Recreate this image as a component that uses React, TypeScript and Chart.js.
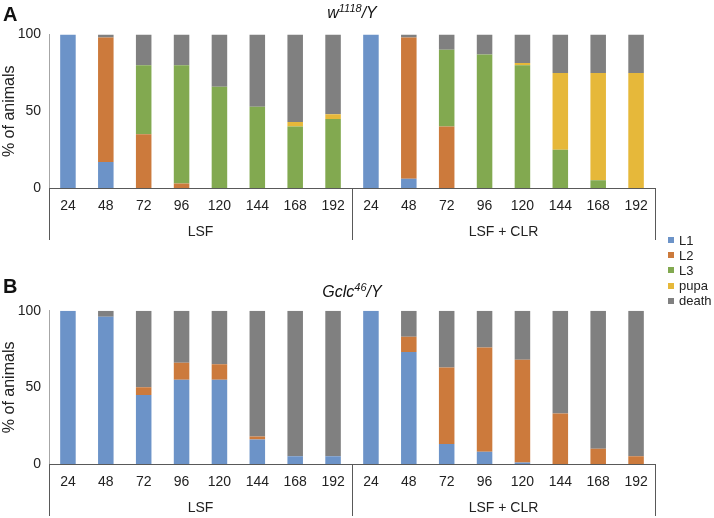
import React, { useEffect, useRef } from 'react';
import { Chart, registerables } from 'chart.js';

Chart.register(...registerables);

const FONT = '"Liberation Sans", Arial, sans-serif';

const timeLabels = ['24', '48', '72', '96', '120', '144', '168', '192'];
const groupLabels = ['LSF', 'LSF + CLR'];
const categories = [...timeLabels, ...timeLabels];
const stageNames = ['L1', 'L2', 'L3', 'pupa', 'death'];
const stageColors = ['#6C93C8', '#CC7A3C', '#82A950', '#E6B83A', '#808080'];
const yTicks = [0, 50, 100];

// Panel A: w1118/Y
const aL1 = [100, 17, 0, 0, 0, 0, 0, 0, 100, 6, 0, 0, 0, 0, 0, 0];
const aL2 = [0, 81, 35, 3, 0, 0, 0, 0, 0, 92, 40, 0, 0, 0, 0, 0];
const aL3 = [0, 0, 45, 77, 66, 53, 40, 45, 0, 0, 50, 87, 80, 25, 5, 0];
const aPupa = [0, 0, 0, 0, 0, 0, 3, 3, 0, 0, 0, 0, 1.5, 50, 70, 75];
const aDeath = [0, 2, 20, 20, 34, 47, 57, 52, 0, 2, 10, 13, 18.5, 25, 25, 25];

// Panel B: Gclc46/Y
const bL1 = [100, 96, 45, 55, 55, 16, 5, 5, 100, 73, 13, 8, 1, 0, 0, 0];
const bL2 = [0, 0, 5, 11, 10, 2, 0, 0, 0, 10, 50, 68, 67, 33, 10, 5];
const bL3 = [0, 0, 0, 0, 0, 0, 0, 0, 0, 0, 0, 0, 0, 0, 0, 0];
const bPupa = [0, 0, 0, 0, 0, 0, 0, 0, 0, 0, 0, 0, 0, 0, 0, 0];
const bDeath = [0, 4, 50, 34, 35, 82, 95, 95, 0, 17, 37, 24, 32, 67, 90, 95];

const groupPlugin = {
  id: 'groupLabels',
  afterDraw(chart: any) {
    const xs = chart.scales.x;
    const ctx = chart.ctx;
    const y0 = xs.top;
    const per = timeLabels.length;
    const n = categories.length;
    const boundary = (idx: number) => {
      if (idx <= 0) return xs.left;
      if (idx >= n) return xs.right;
      return (xs.getPixelForTick(idx - 1) + xs.getPixelForTick(idx)) / 2;
    };
    ctx.save();
    ctx.strokeStyle = '#595959';
    ctx.lineWidth = 1;
    for (let g = 0; g <= groupLabels.length; g++) {
      const px = Math.round(boundary(g * per)) + 0.5;
      ctx.beginPath();
      ctx.moveTo(px, y0);
      ctx.lineTo(px, y0 + 52);
      ctx.stroke();
    }
    ctx.fillStyle = '#222';
    ctx.font = '14px ' + FONT;
    ctx.textAlign = 'center';
    ctx.textBaseline = 'middle';
    groupLabels.forEach((g, i) => {
      const c = (boundary(i * per) + boundary((i + 1) * per)) / 2;
      ctx.fillText(g, c, y0 + 44);
    });
    ctx.restore();
  },
};

type PanelProps = {
  top: number;
  height: number;
  padTop: number;
  axisH: number;
  series: number[][];
};

function Panel({ top, height, padTop, axisH, series }: PanelProps) {
  const ref = useRef<HTMLCanvasElement>(null);
  useEffect(() => {
    if (!ref.current) return;
    const chart = new Chart(ref.current, {
      type: 'bar',
      data: {
        labels: categories,
        datasets: stageNames.map((name, i) => ({
          label: name,
          data: series[i],
          backgroundColor: stageColors[i],
          borderWidth: 0,
          barPercentage: 0.41,
          categoryPercentage: 1,
        })),
      },
      options: {
        animation: false,
        responsive: false,
        maintainAspectRatio: false,
        layout: { padding: { left: 0, right: 59, top: padTop, bottom: 0 } },
        plugins: { legend: { display: false }, tooltip: { enabled: false } },
        scales: {
          x: {
            stacked: true,
            grid: { display: false, drawTicks: false },
            border: { display: true, color: '#595959', width: 1 },
            ticks: {
              font: { size: 14, family: FONT },
              color: '#222',
              padding: 10,
              maxRotation: 0,
              autoSkip: false,
            },
            afterFit: (s: any) => {
              s.height = axisH;
            },
          },
          y: {
            stacked: true,
            min: 0,
            max: 100,
            afterBuildTicks: (s: any) => {
              s.ticks = yTicks.map((v) => ({ value: v }));
            },
            ticks: { font: { size: 14, family: FONT }, color: '#222', padding: 8 },
            grid: { display: false, drawTicks: false },
            border: { display: true, color: '#a6a6a6', width: 1 },
            title: {
              display: true,
              text: '% of animals',
              font: { size: 16, family: FONT },
              color: '#222',
              padding: 0,
            },
            afterFit: (s: any) => {
              s.width = 49;
            },
          },
        },
      },
      plugins: [groupPlugin],
    } as any);
    return () => chart.destroy();
  }, []);
  return (
    <canvas
      ref={ref}
      width={714}
      height={height}
      style={{ position: 'absolute', left: 0, top, width: 714, height }}
    />
  );
}

const textBase: React.CSSProperties = {
  position: 'absolute',
  fontFamily: FONT,
  color: '#111',
  whiteSpace: 'nowrap',
};

export default function App() {
  return (
    <div
      style={{
        position: 'fixed',
        left: 0,
        top: 0,
        width: 714,
        height: 518,
        background: '#fff',
        overflow: 'hidden',
      }}
    >
      <Panel top={0} height={250} padTop={34.5} axisH={62} series={[aL1, aL2, aL3, aPupa, aDeath]} />
      <Panel top={260} height={258} padTop={50.7} axisH={54} series={[bL1, bL2, bL3, bPupa, bDeath]} />

      <div style={{ ...textBase, left: 3, top: 4, fontSize: 20, lineHeight: '20px', fontWeight: 'bold' }}>A</div>
      <div style={{ ...textBase, left: 3, top: 276, fontSize: 20, lineHeight: '20px', fontWeight: 'bold' }}>B</div>

      <div
        style={{ ...textBase, left: 252, width: 200, top: 4.5, textAlign: 'center', fontSize: 16, lineHeight: '16px', fontStyle: 'italic' }}
      >
        w<span style={{ fontSize: 11, position: 'relative', top: -6 }}>1118</span>/Y
      </div>
      <div
        style={{ ...textBase, left: 252, width: 200, top: 283.5, textAlign: 'center', fontSize: 16, lineHeight: '16px', fontStyle: 'italic' }}
      >
        Gclc<span style={{ fontSize: 11, position: 'relative', top: -6 }}>46</span>/Y
      </div>

      {stageNames.map((name, i) => (
        <div
          key={name}
          style={{
            ...textBase,
            left: 668,
            top: 232.5 + i * 15.2,
            height: 15,
            display: 'flex',
            alignItems: 'center',
            fontSize: 13,
            lineHeight: '15px',
            color: '#222',
          }}
        >
          <span style={{ display: 'inline-block', width: 6, height: 6, background: stageColors[i], marginRight: 5 }} />
          {name}
        </div>
      ))}
    </div>
  );
}
